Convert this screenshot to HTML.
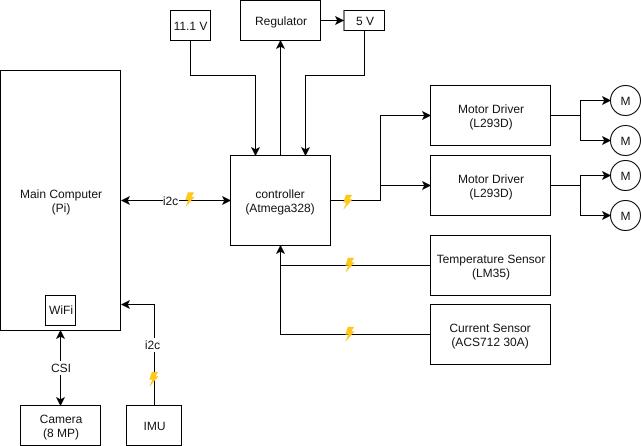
<!DOCTYPE html>
<html>
<head>
<meta charset="utf-8">
<style>
html,body{margin:0;padding:0;background:#fff;width:641px;height:446px;overflow:hidden}
svg{display:block}
text{font-family:"Liberation Sans",sans-serif;font-size:12px;fill:#111;text-anchor:middle;text-rendering:geometricPrecision}
.b{fill:#fff;stroke:#000;stroke-width:1}
.l{fill:none;stroke:#000;stroke-width:1}
.a{fill:#000;stroke:#000;stroke-width:1}
.z{fill:#FFC918;stroke:#F2B705;stroke-width:.3}
</style>
</head>
<body>
<svg width="641" height="446" viewBox="0 0 641 446" xmlns="http://www.w3.org/2000/svg">
<defs>
<path id="bolt" d="M-1.5,-7 L4.300,-7 L1.800,-2.500 L4.800,-2.500 L-3.800,7.200 L-1,0.500 L-4,0.500 Z"/>
<path id="ar" d="M0,0 L-7,-3.5 L-5.2,0 L-7,3.5 Z"/>
</defs>

<!-- connectors -->
<path class="l" d="M190.5,40.5V75.5H255.5V150"/>
<path class="l" d="M364.5,30.5V75.5H305.5V150"/>
<path class="l" d="M280.5,155.5V46"/>
<path class="l" d="M320.5,20.5H338"/>
<path class="l" d="M127,200.5H224"/>
<path class="l" d="M330.5,200.5H380.5V115.5H424"/>
<path class="l" d="M380.5,185.5H424"/>
<path class="l" d="M550.5,115.5H580.5V100.5H604"/>
<path class="l" d="M580.5,115.5V140.5H604"/>
<path class="l" d="M550.5,185.5H580.5V175.5H604"/>
<path class="l" d="M580.5,185.5V215.5H604"/>
<path class="l" d="M430.5,265.5H280.5V251"/>
<path class="l" d="M430.5,334.5H280.5V265.5"/>
<path class="l" d="M60.5,336V400"/>
<path class="l" d="M154.5,405.5V304.5H127"/>

<!-- boxes -->
<rect class="b" x="0.5" y="70.5" width="120" height="260"/>
<rect class="b" x="45.5" y="295.5" width="30" height="30"/>
<rect class="b" x="20.5" y="405.5" width="80" height="40"/>
<rect class="b" x="126.5" y="405.5" width="55" height="40"/>
<rect class="b" x="170.5" y="10.5" width="40" height="30"/>
<rect class="b" x="240.5" y="0.5" width="80" height="40"/>
<rect class="b" x="344" y="10.5" width="40.5" height="20"/>
<rect class="b" x="230.5" y="155.5" width="100" height="90"/>
<rect class="b" x="430.5" y="85.5" width="120" height="60"/>
<rect class="b" x="430.5" y="155.5" width="120" height="60"/>
<rect class="b" x="430.5" y="235.5" width="120" height="60"/>
<rect class="b" x="430.5" y="304.5" width="120" height="60"/>
<circle class="b" cx="625.5" cy="100.5" r="15"/>
<circle class="b" cx="625.5" cy="140.5" r="15"/>
<circle class="b" cx="625.5" cy="175.5" r="15"/>
<circle class="b" cx="625.5" cy="215.5" r="15"/>

<!-- arrowheads -->
<use class="a" href="#ar" transform="translate(255.5,155) rotate(90)"/>
<use class="a" href="#ar" transform="translate(305.5,155) rotate(90)"/>
<use class="a" href="#ar" transform="translate(280.5,41) rotate(-90)"/>
<use class="a" href="#ar" transform="translate(343,20.5)"/>
<use class="a" href="#ar" transform="translate(122,200.5) rotate(180)"/>
<use class="a" href="#ar" transform="translate(230,200.5)"/>
<use class="a" href="#ar" transform="translate(430,115.5)"/>
<use class="a" href="#ar" transform="translate(430,185.5)"/>
<use class="a" href="#ar" transform="translate(610,100.5)"/>
<use class="a" href="#ar" transform="translate(610,140.5)"/>
<use class="a" href="#ar" transform="translate(610,175.5)"/>
<use class="a" href="#ar" transform="translate(610,215.5)"/>
<use class="a" href="#ar" transform="translate(280.5,246) rotate(-90)"/>
<use class="a" href="#ar" transform="translate(60.5,331) rotate(-90)"/>
<use class="a" href="#ar" transform="translate(60.5,405) rotate(90)"/>
<use class="a" href="#ar" transform="translate(122,304.5) rotate(180)"/>

<!-- bolts -->
<use class="z" href="#bolt" transform="translate(189.5,199.5)"/>
<use class="z" href="#bolt" transform="translate(347.5,202)"/>
<use class="z" href="#bolt" transform="translate(349.5,265)"/>
<use class="z" href="#bolt" transform="translate(349.5,334)"/>
<use class="z" href="#bolt" transform="translate(153.5,379)"/>

<!-- edge label backgrounds -->
<rect x="163" y="193" width="16" height="14" fill="#fff"/>
<rect x="51" y="361" width="20" height="14" fill="#fff"/>
<rect x="144" y="338" width="17" height="14" fill="#fff"/>

<!-- labels -->
<text x="170.5" y="205">i2c</text>
<text x="61" y="372">CSI</text>
<text x="152.5" y="349">i2c</text>
<text x="61" y="198">Main Computer</text>
<text x="61" y="212">(Pi)</text>
<text x="61" y="314">WiFi</text>
<text x="61" y="423">Camera</text>
<text x="61" y="437">(8 MP)</text>
<text x="154.5" y="430">IMU</text>
<text x="190.5" y="30">11.1 V</text>
<text x="281" y="25">Regulator</text>
<text x="365" y="25">5 V</text>
<text x="280" y="198">controller</text>
<text x="280" y="212">(Atmega328)</text>
<text x="491" y="113">Motor Driver</text>
<text x="491" y="127">(L293D)</text>
<text x="491" y="183">Motor Driver</text>
<text x="491" y="197">(L293D)</text>
<text x="491" y="263">Temperature Sensor</text>
<text x="491" y="277">(LM35)</text>
<text x="490" y="332">Current Sensor</text>
<text x="490" y="346">(ACS712 30A)</text>
<text x="625.5" y="105">M</text>
<text x="625.5" y="145">M</text>
<text x="625.5" y="180">M</text>
<text x="625.5" y="220">M</text>
</svg>
</body>
</html>
